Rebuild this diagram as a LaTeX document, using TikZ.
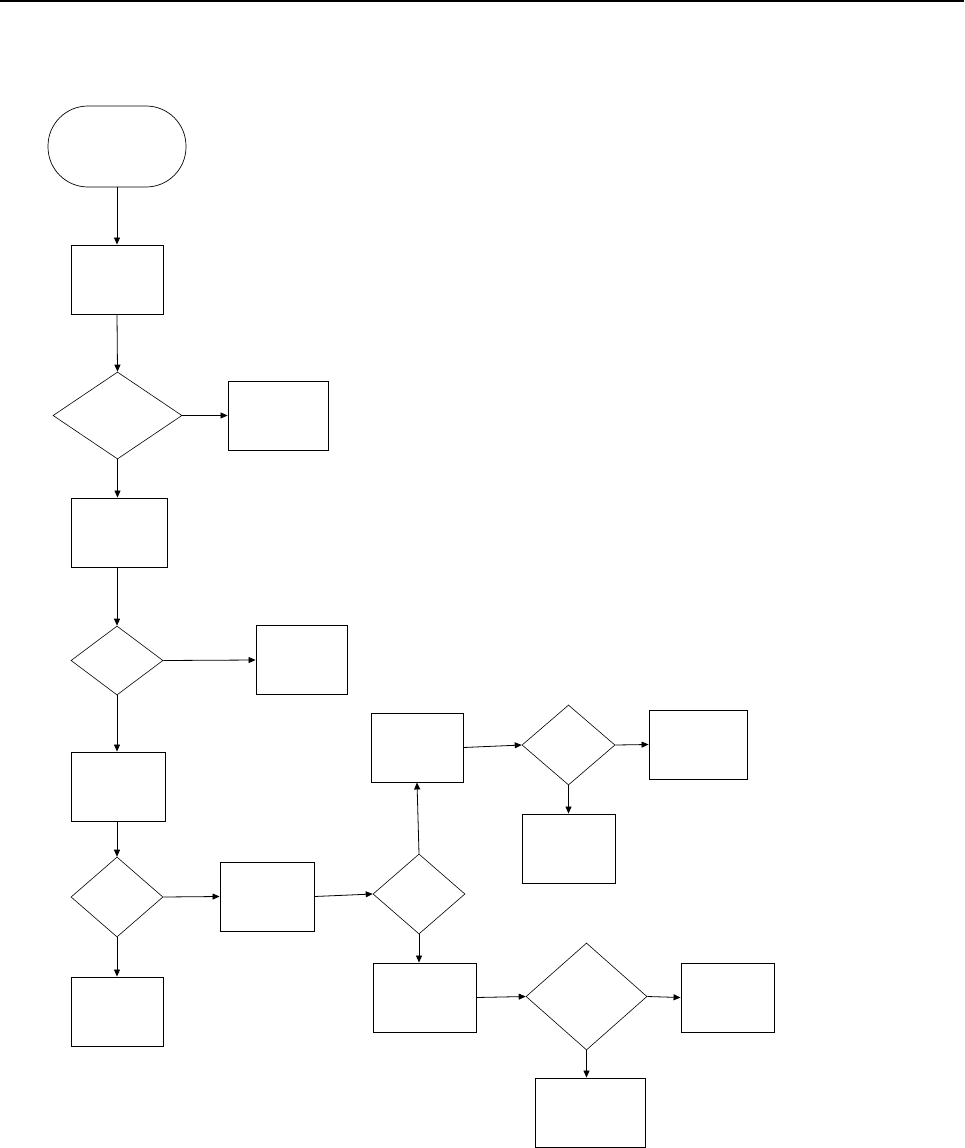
\documentclass[tikz,border=0pt]{standalone}
\usetikzlibrary{arrows.meta,positioning,shapes.geometric}

\begin{document}
\begin{tikzpicture}[x=1pt,y=-1pt,
  termbox/.style={rectangle,rounded corners=40pt,draw,line width=0.7pt,
                  minimum width=138pt,minimum height=81pt,inner sep=0pt},
  procbox/.style={rectangle,draw,line width=0.9pt,
                  minimum width=93pt,minimum height=69pt,inner sep=0pt},
  decbox/.style={diamond,draw,line width=0.6pt,
                 minimum width=92pt,minimum height=80pt,inner sep=0pt},
  arr/.style={-{Triangle[length=7pt,width=6pt]},line width=0.8pt}
]
  \useasboundingbox (0,0) rectangle (964,1148);

  % ---- Rule along the top --------------------------------------
  \coordinate (ruleL) at (0,1);
  \coordinate (ruleR) at (964,1);
  \draw[line width=2pt] (ruleL) -- (ruleR);

  % ---- Main column (left) --------------------------------------
  \node[termbox] (start) at (117,146.5) {};
  \node[procbox,minimum width=92pt] (p1) at (117,279.5) {};
  \node[decbox,minimum width=129pt,minimum height=87pt] (d1) at (117.5,415.5) {};
  \node[procbox,minimum width=100pt] (r1) at (278,415.5) {};
  \node[procbox,minimum width=96pt] (p2) at (119,532.5) {};
  \node[decbox,minimum height=69pt] (d2) at (117,660.5) {};
  \node[procbox,minimum width=91pt] (r2) at (301.5,660) {};
  \node[procbox,minimum width=94pt] (p3) at (118,786.5) {};
  \node[decbox] (d3) at (117,897) {};
  \node[procbox,minimum width=92pt] (p4) at (117,1011.5) {};
  \node[procbox,minimum width=94pt] (p5) at (267,896.5) {};

  % ---- Middle branch -------------------------------------------
  \node[decbox] (d4) at (419,894) {};
  \node[procbox,minimum width=92pt] (p6) at (417,747.5) {};
  \node[decbox,minimum width=93pt] (d5) at (568.5,745) {};
  \node[procbox,minimum width=98pt] (r5) at (698,744.5) {};
  \node[procbox] (b5) at (568.5,848.5) {};
  \node[procbox,minimum width=103pt] (p9) at (424.5,997.5) {};

  % ---- Lower branch --------------------------------------------
  \node[decbox,minimum width=121pt,minimum height=107pt] (d6) at (586.5,996.5) {};
  \node[procbox] (r6) at (727.5,997.5) {};
  \node[procbox,minimum width=110pt] (b6) at (590,1112.5) {};

  % Arrows down the main column
  \draw[arr] (start.south) -- (p1.north);
  \draw[arr] (p1.south) -- (d1.north);
  \draw[arr] (d1.east) -- (r1.west);
  \draw[arr] (d1.south) -- (d1.south |- p2.north);
  \draw[arr] (p2.south -| d2.north) -- (d2.north);
  \draw[arr] (d2.east) -- (r2.west);
  \draw[arr] (d2.south) -- (d2.south |- p3.north);
  \draw[arr] (p3.south -| d3.north) -- (d3.north);
  \draw[arr] (d3.south) -- (p4.north);
  \draw[arr] (d3.east) -- (p5.west);

  % Arrows in the branches
  \draw[arr] (p5.east) -- (d4.west);
  \draw[arr] (d4.north) -- (p6.south);
  \draw[arr] (p6.east) -- (d5.west);
  \draw[arr] (d5.east) -- (r5.west);
  \draw[arr] (d5.south) -- (b5.north);
  \draw[arr] (d4.south) -- (d4.south |- p9.north);
  \draw[arr] (p9.east) -- (d6.west);
  \draw[arr] (d6.east) -- (r6.west);
  \draw[arr] (d6.south) -- (d6.south |- b6.north);

\end{tikzpicture}
\end{document}
